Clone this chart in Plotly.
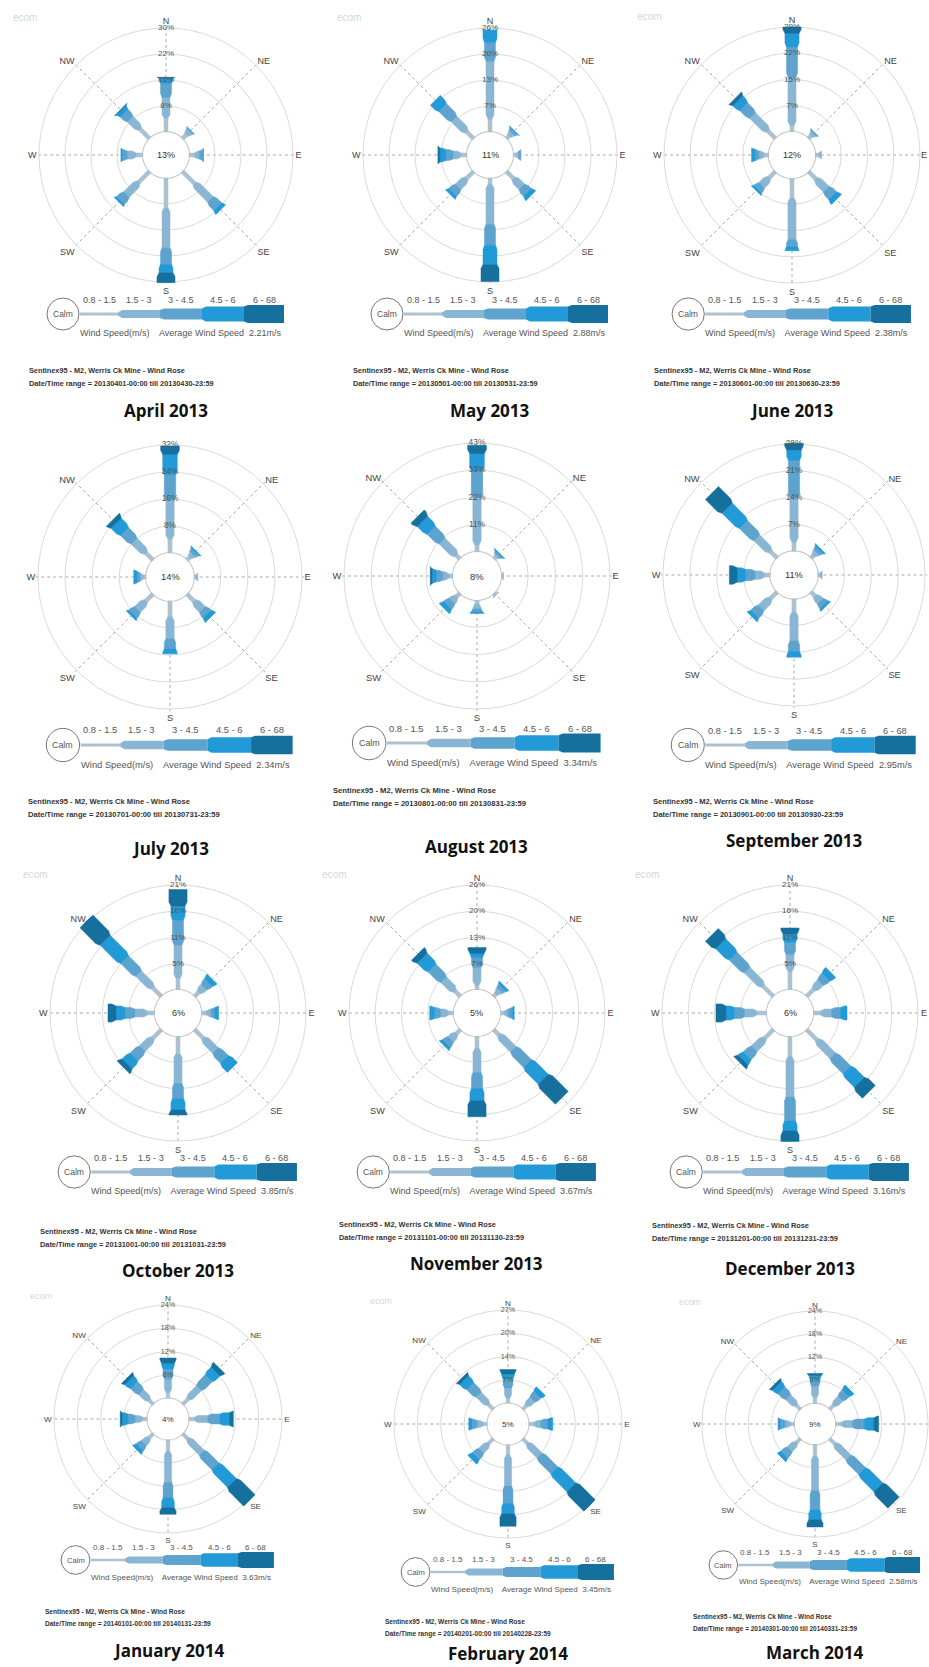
import math
import plotly.graph_objects as go

W, H = 929, 1667
FONT = "Liberation Sans, Arial, sans-serif"
TITLE_FONT = "Open Sans"

# ---------------------------------------------------------------- data
DIRS = ["N", "NE", "E", "SE", "S", "SW", "W", "NW"]
DIR_ANGLES = [0, 45, 90, 135, 180, 225, 270, 315]
CLASSES = ["0.8 - 1.5", "1.5 - 3", "3 - 4.5", "4.5 - 6", "6 - 68"]
COLORS = ["#adc1cf", "#8ab6d4", "#5ea3ce", "#229ad8", "#15709e"]

MONTHS = ["April 2013", "May 2013", "June 2013",
          "July 2013", "August 2013", "September 2013",
          "October 2013", "November 2013", "December 2013",
          "January 2014", "February 2014", "March 2014"]
DATE_FROM = ["20130401", "20130501", "20130601", "20130701", "20130801", "20130901",
             "20131001", "20131101", "20131201", "20140101", "20140201", "20140301"]
DATE_TO = ["20130430", "20130531", "20130630", "20130731", "20130831", "20130930",
           "20131031", "20131130", "20131231", "20140131", "20140228", "20140331"]
CALM = [13, 11, 12, 14, 8, 11, 6, 5, 6, 4, 5, 9]
AVG_SPEED = [2.21, 2.88, 2.38, 2.34, 3.34, 2.95, 3.85, 3.67, 3.16, 3.63, 3.45, 2.58]
RING_MAX = [30, 26, 29, 32, 43, 28, 21, 26, 21, 24, 27, 24]
RING_LABELS = [["8%", "15%", "22%", "30%"], ["7%", "13%", "20%", "26%"],
               ["7%", "15%", "22%", "29%"], ["8%", "16%", "24%", "32%"],
               ["11%", "22%", "33%", "43%"], ["7%", "14%", "21%", "28%"],
               ["5%", "11%", "16%", "21%"], ["7%", "13%", "20%", "26%"],
               ["5%", "11%", "16%", "21%"], ["6%", "12%", "18%", "24%"],
               ["7%", "14%", "20%", "27%"], ["6%", "12%", "18%", "24%"]]

# frequency (%) per direction (N..NW), per speed class (0.8-1.5 .. 6-68)
freq_apr13 = [[4.0, 6.0, 4.0, 1.5, 0.3], [1.5, 1.5, 0.5, 0, 0], [1.5, 1.5, 1.0, 0.2, 0],
              [5.0, 6.5, 3.0, 1.2, 0], [8.6, 11.5, 4.8, 2.4, 2.9], [4.5, 5.0, 2.5, 0.6, 0],
              [2.0, 2.5, 1.5, 0.4, 0], [4.0, 4.0, 2.5, 1.2, 0.2]]
freq_may13 = [[3.3, 14.4, 4.7, 3.1, 0], [1.0, 1.0, 0.7, 0.2, 0], [0.8, 0.7, 0.5, 0, 0],
              [2.5, 3.0, 2.0, 1.2, 0], [1.6, 10.0, 5.2, 4.8, 4.3], [2.5, 3.0, 2.0, 0.8, 0],
              [1.5, 2.0, 1.8, 1.5, 0.5], [2.5, 4.5, 4.0, 2.6, 0]]
freq_jun13 = [[1.8, 13.4, 8.3, 3.7, 1.8], [1.0, 1.0, 0.5, 0, 0], [1.0, 0.8, 0, 0, 0],
              [3.0, 4.0, 2.5, 1.5, 0], [5.5, 11.5, 1.9, 1.2, 0], [2.5, 3.0, 1.5, 0.6, 0],
              [1.2, 1.5, 1.0, 1.1, 0], [3.0, 6.0, 3.5, 2.3, 1.0]]
freq_jul13 = [[4.2, 11.5, 7.5, 6.0, 2.5], [1.2, 1.3, 1.0, 0.4, 0], [0.6, 0.6, 0, 0, 0],
              [3.0, 3.5, 2.0, 1.4, 0], [4.7, 6.5, 3.0, 1.5, 0], [3.0, 3.5, 2.0, 0.7, 0],
              [0.8, 1.0, 0.9, 1.0, 0], [3.0, 5.0, 4.0, 3.5, 1.4]]
freq_aug13 = [[2.8, 18.7, 10.5, 6.8, 3.3], [1.0, 1.0, 0.8, 0.4, 0], [0.6, 0.4, 0, 0, 0],
              [0.7, 0.5, 0, 0, 0], [1.5, 2.0, 1.3, 0.5, 0], [2.0, 2.5, 2.5, 1.8, 0],
              [1.5, 2.5, 2.5, 1.8, 0.7], [2.0, 8.0, 6.0, 5.0, 2.7]]
freq_sep13 = [[2.4, 11.6, 9.7, 2.7, 1.8], [1.0, 1.2, 0.9, 0.5, 0], [0.6, 0.6, 0, 0, 0],
              [1.5, 2.0, 1.4, 0.6, 0], [3.5, 7.5, 2.8, 1.5, 0], [2.5, 3.5, 2.3, 1.0, 0],
              [1.5, 2.5, 2.5, 2.2, 2.0], [2.5, 5.0, 5.0, 6.0, 5.6]]
freq_oct13 = [[2.3, 6.7, 5.0, 2.8, 3.3], [1.2, 1.5, 1.3, 1.0, 0], [1.0, 1.0, 0.8, 0.7, 0],
              [2.5, 3.5, 2.5, 2.3, 0], [3.5, 6.0, 3.0, 2.3, 1.0], [2.5, 3.0, 2.3, 2.0, 1.0],
              [1.5, 2.5, 2.0, 1.8, 1.6], [2.5, 4.0, 4.0, 5.5, 6.0]]
freq_nov13 = [[1.2, 4.3, 2.5, 1.0, 1.5], [1.0, 1.2, 1.0, 0.6, 0], [1.0, 1.0, 1.0, 0.5, 0],
              [2.0, 5.0, 5.0, 5.5, 6.5], [3.0, 6.0, 4.0, 3.0, 4.0], [1.5, 2.0, 1.5, 0.8, 0],
              [1.3, 2.0, 1.5, 1.2, 0], [2.0, 4.0, 4.0, 3.5, 1.5]]
freq_dec13 = [[3.7, 3.4, 2.4, 1.7, 1.2], [2.0, 2.0, 1.5, 1.4, 0], [1.5, 2.2, 1.8, 1.3, 0],
              [3.0, 4.5, 4.0, 3.5, 2.7], [4.1, 8.1, 4.8, 2.0, 2.1], [2.5, 3.0, 2.0, 1.2, 0.8],
              [2.0, 2.5, 2.0, 1.7, 2.0], [3.0, 4.5, 4.0, 3.5, 2.5]]
freq_jan14 = [[1.5, 3.5, 2.5, 1.5, 1.4], [2.0, 4.0, 3.5, 2.5, 1.3], [1.5, 3.5, 3.0, 2.5, 1.0],
              [2.0, 5.0, 5.0, 6.0, 6.3], [3.0, 8.0, 4.0, 2.5, 1.7], [1.5, 2.0, 1.5, 1.0, 0],
              [1.2, 2.0, 1.8, 1.5, 0.5], [1.5, 3.0, 2.5, 1.8, 0.8]]
freq_feb14 = [[1.5, 3.0, 2.5, 1.5, 1.3], [1.5, 2.5, 2.0, 1.5, 0], [1.5, 2.0, 2.0, 1.5, 0],
              [2.0, 5.0, 6.0, 7.0, 7.5], [3.0, 9.0, 5.0, 3.0, 3.6], [2.0, 3.0, 2.2, 1.5, 0],
              [1.2, 1.8, 1.4, 1.0, 0], [2.0, 4.0, 3.5, 2.5, 0.9]]
freq_mar14 = [[1.5, 3.0, 1.8, 1.0, 0.5], [1.5, 2.5, 2.0, 1.4, 0], [1.5, 3.0, 3.0, 2.5, 1.2],
              [2.0, 5.0, 5.0, 6.0, 5.5], [3.0, 9.0, 5.0, 2.5, 1.9], [1.5, 2.5, 2.0, 1.0, 0],
              [1.0, 1.5, 1.2, 0.6, 0], [1.5, 3.0, 2.5, 1.7, 0.7]]
FREQ = [freq_apr13, freq_may13, freq_jun13, freq_jul13, freq_aug13, freq_sep13,
        freq_oct13, freq_nov13, freq_dec13, freq_jan14, freq_feb14, freq_mar14]

# ---------------------------------------------------------------- layout (pixels)
CX = [166, 490, 792, 170, 477, 794, 178, 477, 790, 168, 508, 815]
CY = [155, 155, 155, 577, 576, 575, 1013, 1013, 1013, 1419, 1424, 1424]
RR = [127, 127, 128, 132, 133, 131, 128, 128, 128, 114, 114, 113]
SHOW_N = [True, True, True, False, False, False, True, True, True, True, True, True]
LEG_Y = [314, 314, 314, 745, 743, 745, 1172, 1172, 1172, 1560, 1572, 1565]
SENT_Y = [370, 370, 370, 801, 790, 801, 1231, 1224, 1225, 1612, 1622, 1617]
TITLE_Y = [410, 410, 410, 848, 846, 840, 1270, 1263, 1268, 1650, 1653, 1652]
HALF_W = [2.0, 4.0, 5.5, 7.0, 9.0]      # half bar width per speed class
FLARE = 4.0                              # length of the widening step
LEG_X = [-86, -48, -6, 36, 78, 118]      # legend segment boundaries
LEG_H = [3, 8, 11, 15, 18]               # legend segment heights


def px(x, y):
    return x / W, 1 - y / H


def note(x, y, text, size, color="#555", family=FONT, xanchor="center"):
    u, v = px(x, y)
    return dict(x=u, y=v, xref="paper", yref="paper", text=text, showarrow=False,
                xanchor=xanchor, yanchor="middle",
                font=dict(size=size, color=color, family=family))


fig = go.Figure()
annotations = []
shapes = []
polars = {}

for i in range(12):
    cx, cy, R = CX[i], CY[i], RR[i]
    s = R / 127.0
    hole = 0.18 * R
    Rp = min(R + 2 * s, W - cx, cx)
    rmax = RING_MAX[i]
    rng = rmax * (Rp - hole) / (R - hole)
    ppp = (R - hole) / rmax  # pixels per percent
    sub = "polar" if i == 0 else f"polar{i + 1}"
    ticks = [rmax * k / 4 for k in (1, 2, 3, 4)]

    # east label goes in by hand where the page edge is close
    edge = cx + R + 14 > W
    ticktext = []
    for d in DIRS:
        if (d == "E" and edge) or (d == "N" and not SHOW_N[i]):
            ticktext.append("")
        else:
            ticktext.append(d)

    polars[sub] = dict(
        domain=dict(x=[(cx - Rp) / W, (cx + Rp) / W], y=[1 - (cy + Rp) / H, 1 - (cy - Rp) / H]),
        hole=hole / Rp,
        bgcolor="rgba(0,0,0,0)",
        radialaxis=dict(range=[0, rng], tickmode="array", tickvals=ticks, showticklabels=False,
                        ticks="", showline=False, gridcolor="#dadada", gridwidth=1.3),
        angularaxis=dict(direction="clockwise", rotation=90, tickmode="array",
                         tickvals=DIR_ANGLES, ticktext=ticktext, ticks="", showline=False,
                         gridcolor="#a8a8a8", griddash="3px,3px", gridwidth=1,
                         tickfont=dict(size=9 * s, color="#444", family=FONT)),
    )
    if edge and cx + R < W - 4:
        annotations.append(note(min(cx + R + 8 * s, W - 5), cy, "E", 9 * s, "#444"))

    # calm circle
    fig.add_trace(go.Scatterpolar(r=[rng * 0.004] * 73, theta=list(range(0, 361, 5)),
                                  mode="lines", line=dict(color="#c9c9c9", width=1.4),
                                  subplot=sub, hoverinfo="skip", showlegend=False,
                                  cliponaxis=False))

    def to_polar(a, o, theta0):
        d = math.hypot(a, o)
        return (d - hole) / (Rp - hole) * rng, theta0 + math.degrees(math.atan2(o, a))

    for k, ang in enumerate(DIR_ANGLES):
        a = hole
        wprev = None
        for c, v in enumerate(FREQ[i][k]):
            if v <= 0:
                continue
            w = HALF_W[c] * s
            wp = w if wprev is None else wprev
            a1 = a + v * ppp
            f = min(FLARE * s, a1 - a)
            pts = [(a, -wp), (a + f, -w), (a1, -w), (a1, w), (a + f, w), (a, wp), (a, -wp)]
            rs, ths = zip(*[to_polar(pa, po, ang) for pa, po in pts])
            fig.add_trace(go.Scatterpolar(r=list(rs), theta=list(ths), mode="lines",
                                          fill="toself", fillcolor=COLORS[c],
                                          line=dict(color=COLORS[c], width=0.5),
                                          subplot=sub, hoverinfo="skip", showlegend=False,
                                          cliponaxis=False))
            a = a1
            wprev = w

    # ring value labels along the north axis
    fig.add_trace(go.Scatterpolar(r=ticks, theta=[0] * 4, mode="text", text=RING_LABELS[i],
                                  textfont=dict(size=8 * s, color="#555", family=FONT),
                                  subplot=sub, hoverinfo="skip", showlegend=False,
                                  cliponaxis=False))

    # calm percentage in the centre
    annotations.append(note(cx, cy, f"{CALM[i]}%", 9 * s, "#333"))

    # speed legend strip
    ly = LEG_Y[i]
    ccx = cx - 103 * s
    x0, y0 = px(ccx - 16 * s, ly - 16 * s)
    x1, y1 = px(ccx + 16 * s, ly + 16 * s)
    shapes.append(dict(type="circle", xref="paper", yref="paper", x0=x0, x1=x1, y0=y1, y1=y0,
                       line=dict(color="#777", width=1), fillcolor="white"))
    annotations.append(note(ccx, ly, "Calm", 8.5 * s))
    hprev = None
    for c in range(5):
        xa = cx + LEG_X[c] * s
        xb = cx + LEG_X[c + 1] * s
        h = LEG_H[c] * s / 2
        hp = h if hprev is None else hprev
        fl = 4 * s
        poly = [(xa, ly - hp), (xa + fl, ly - h), (xb, ly - h), (xb, ly + h), (xa + fl, ly + h), (xa, ly + hp)]
        path = "M " + " L ".join(f"{px(u, v)[0]:.5f},{px(u, v)[1]:.5f}" for u, v in poly) + " Z"
        shapes.append(dict(type="path", xref="paper", yref="paper", path=path,
                           fillcolor=COLORS[c], line=dict(width=0)))
        hprev = h
        annotations.append(note((xa + xb) / 2, ly - 14 * s, CLASSES[c], 9 * s))

    annotations.append(note(cx - 88 * s, ly + 19 * s,
                            f"Wind Speed(m/s)    Average Wind Speed  {AVG_SPEED[i]:.2f}m/s",
                            9 * s, xanchor="left"))
    annotations.append(note(cx - 139 * s, SENT_Y[i],
                            "<b>Sentinex95 - M2, Werris Ck Mine - Wind Rose</b>",
                            7.3 * s, "#333", xanchor="left"))
    annotations.append(note(cx - 139 * s, SENT_Y[i] + 13 * s,
                            f"<b>Date/Time range = {DATE_FROM[i]}-00:00 till {DATE_TO[i]}-23:59</b>",
                            7.3 * s, "#333", xanchor="left"))

    if i // 3 != 1:
        annotations.append(note(cx - 141 * s, cy - 137 * s, "ecom", 10 * s, "#cfd9e1"))

    annotations.append(note(cx, TITLE_Y[i], f"<b>{MONTHS[i]}</b>", 17, "#111",
                            family=TITLE_FONT))

fig.update_layout(width=W, height=H, margin=dict(l=0, r=0, t=0, b=0),
                  paper_bgcolor="white", plot_bgcolor="white", showlegend=False,
                  annotations=annotations, shapes=shapes, **polars)
fig.write_html("out.html")
